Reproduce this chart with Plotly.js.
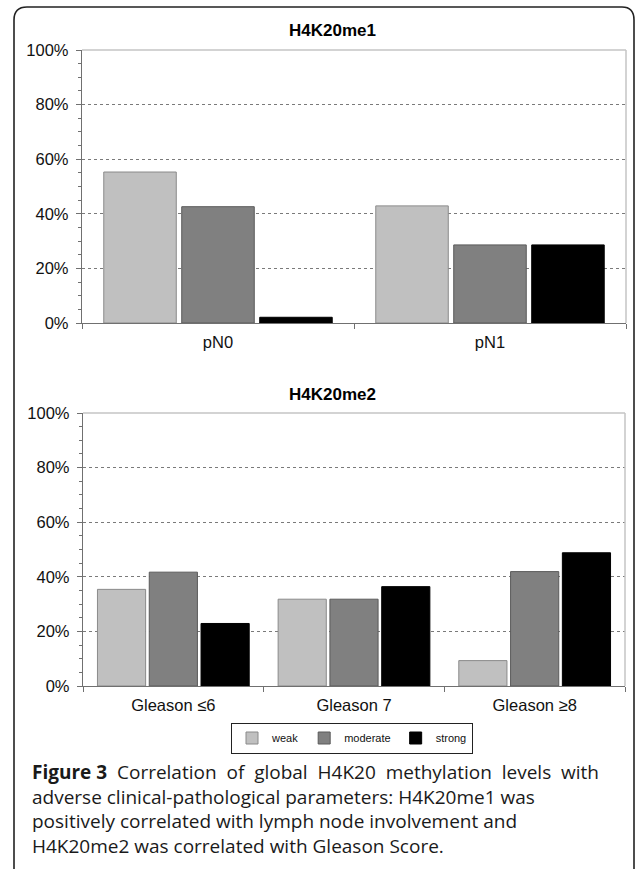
<!DOCTYPE html>
<html>
<head>
<meta charset="utf-8">
<script src="https://cdn.plot.ly/plotly-3.0.1.min.js"></script>
<style>
  html, body { margin: 0; padding: 0; background: #fff; }
  #chart { width: 635px; height: 869px; }
</style>
</head>
<body>
<div id="chart"></div>
<script>
// ---- data ----
const seriesNames = ['weak', 'moderate', 'strong'];
const titleTop = 'H4K20me1';
const titleBottom = 'H4K20me2';
const catsTop = ['pN0', 'pN1'];
const weakTop = [0.553, 0.429];
const moderateTop = [0.426, 0.286];
const strongTop = [0.021, 0.286];
const catsBottom = ['Gleason ≤6', 'Gleason 7', 'Gleason ≥8'];
const weakBottom = [0.354, 0.318, 0.093];
const moderateBottom = [0.417, 0.318, 0.419];
const strongBottom = [0.229, 0.364, 0.488];
const yTickVals = [0, 0.2, 0.4, 0.6, 0.8, 1.0];
const yTickText = ['0%', '20%', '40%', '60%', '80%', '100%'];
const captionBold = 'Figure 3';
const captionLines = [
  ' Correlation of global H4K20 methylation levels with',
  'adverse clinical-pathological parameters: H4K20me1 was',
  'positively correlated with lymph node involvement and',
  'H4K20me2 was correlated with Gleason Score.'
];

// ---- style ----
const W = 635, H = 869;
const px = v => v / W;
const py = v => 1 - v / H;
const fills = ['#C0C0C0', '#808080', '#000000'];
const edges = ['#8a8a8a', '#5a5a5a', '#000000'];
const FONT = 'Liberation Sans, Arial, sans-serif';
const CAPFONT = 'Open Sans, Noto Sans, sans-serif';
const CAPSIZE = 19;

function mk(x, ys, i, xa, ya, show) {
  return {
    type: 'bar', x: x, y: ys, name: seriesNames[i],
    xaxis: xa, yaxis: ya, showlegend: show,
    marker: { color: fills[i], line: { color: edges[i], width: 1 } },
    hoverinfo: 'skip'
  };
}

const data = [
  mk(catsTop, weakTop, 0, 'x', 'y', false),
  mk(catsTop, moderateTop, 1, 'x', 'y', false),
  mk(catsTop, strongTop, 2, 'x', 'y', false),
  mk(catsBottom, weakBottom, 0, 'x2', 'y2', true),
  mk(catsBottom, moderateBottom, 1, 'x2', 'y2', true),
  mk(catsBottom, strongBottom, 2, 'x2', 'y2', true)
];

function yaxis(dom, anchor) {
  return {
    domain: dom, anchor: anchor, range: [0, 1], fixedrange: true,
    tickvals: yTickVals, ticktext: yTickText,
    tickfont: { family: FONT, size: 16.5, color: '#111' },
    showline: true, linecolor: '#707070', linewidth: 1.2,
    ticks: 'outside', ticklen: 5, tickcolor: '#707070', tickwidth: 1,
    minor: { dtick: 0.05, tick0: 0, ticks: 'outside', ticklen: 3, tickcolor: '#707070', showgrid: false },
    showgrid: true, gridcolor: '#7a7a7a', griddash: 'dot', gridwidth: 1,
    zeroline: false, ticklabelstandoff: 4
  };
}
function xaxis(dom, anchor) {
  return {
    domain: dom, anchor: anchor, type: 'category', fixedrange: true,
    tickfont: { family: FONT, size: 16.5, color: '#111' },
    showline: true, linecolor: '#707070', linewidth: 1.2,
    ticks: 'outside', tickson: 'boundaries', ticklen: 5, tickcolor: '#707070',
    showgrid: false, zeroline: false, ticklabelstandoff: 4
  };
}

function r(v) { return v.toFixed(5); }
const borderPath = 'M ' + r(px(14)) + ' ' + r(py(869)) +
  ' L ' + r(px(14)) + ' ' + r(py(20)) +
  ' Q ' + r(px(14)) + ' ' + r(py(7)) + ' ' + r(px(27)) + ' ' + r(py(7)) +
  ' L ' + r(px(622)) + ' ' + r(py(7)) +
  ' Q ' + r(px(634)) + ' ' + r(py(7)) + ' ' + r(px(634)) + ' ' + r(py(20)) +
  ' L ' + r(px(634)) + ' ' + r(py(869));

const plotEdge = '#c4c4c4';
const shapes = [
  { type: 'path', path: borderPath, xref: 'paper', yref: 'paper', line: { color: '#222', width: 1.6 } },
  { type: 'line', xref: 'x domain', yref: 'y domain', x0: 0, x1: 1, y0: 1, y1: 1, line: { color: plotEdge, width: 1.5 }, layer: 'above' },
  { type: 'line', xref: 'x domain', yref: 'y domain', x0: 1, x1: 1, y0: 0, y1: 1, line: { color: plotEdge, width: 1.5 }, layer: 'above' },
  { type: 'line', xref: 'x2 domain', yref: 'y2 domain', x0: 0, x1: 1, y0: 1, y1: 1, line: { color: plotEdge, width: 1.5 }, layer: 'above' },
  { type: 'line', xref: 'x2 domain', yref: 'y2 domain', x0: 1, x1: 1, y0: 0, y1: 1, line: { color: plotEdge, width: 1.5 }, layer: 'above' }
];

// first caption line is justified in the reference: widen its word gaps
const line0 = captionLines[0].replace(/ (?=\S)/g, ' \u00A0');
const captionText = '<b>' + captionBold + '</b>' + line0 + '<br>' + captionLines.slice(1).join('<br>');

const annotations = [
  { text: '<b>' + titleTop + '</b>', xref: 'paper', yref: 'paper', x: px(332), y: py(31),
    xanchor: 'center', yanchor: 'middle', showarrow: false, font: { family: FONT, size: 17, color: '#000' } },
  { text: '<b>' + titleBottom + '</b>', xref: 'paper', yref: 'paper', x: px(332), y: py(394),
    xanchor: 'center', yanchor: 'middle', showarrow: false, font: { family: FONT, size: 17, color: '#000' } },
  { text: captionText, xref: 'paper', yref: 'paper', x: px(30), y: py(809),
    xanchor: 'left', yanchor: 'middle', align: 'left', showarrow: false,
    font: { family: CAPFONT, size: CAPSIZE, color: '#1a1a1a' } }
];

const layout = {
  width: W, height: H,
  margin: { l: 0, r: 0, t: 0, b: 0 },
  paper_bgcolor: '#fff', plot_bgcolor: '#fff',
  barmode: 'group', bargap: 0.14, bargroupgap: 0.07,
  xaxis: xaxis([px(82), px(626)], 'y'),
  yaxis: yaxis([py(323), py(50)], 'x'),
  xaxis2: xaxis([px(83), px(625)], 'y2'),
  yaxis2: yaxis([py(686), py(413)], 'x2'),
  showlegend: true,
  legend: {
    orientation: 'h', x: px(352), y: py(738), xanchor: 'center', yanchor: 'middle',
    bordercolor: '#222', borderwidth: 1, font: { family: FONT, size: 11, color: '#111' },
    itemwidth: 30, tracegroupgap: 0, itemclick: false, itemdoubleclick: false
  },
  shapes: shapes,
  annotations: annotations
};

Plotly.newPlot('chart', data, layout, { staticPlot: true, displayModeBar: false });
</script>
</body>
</html>
